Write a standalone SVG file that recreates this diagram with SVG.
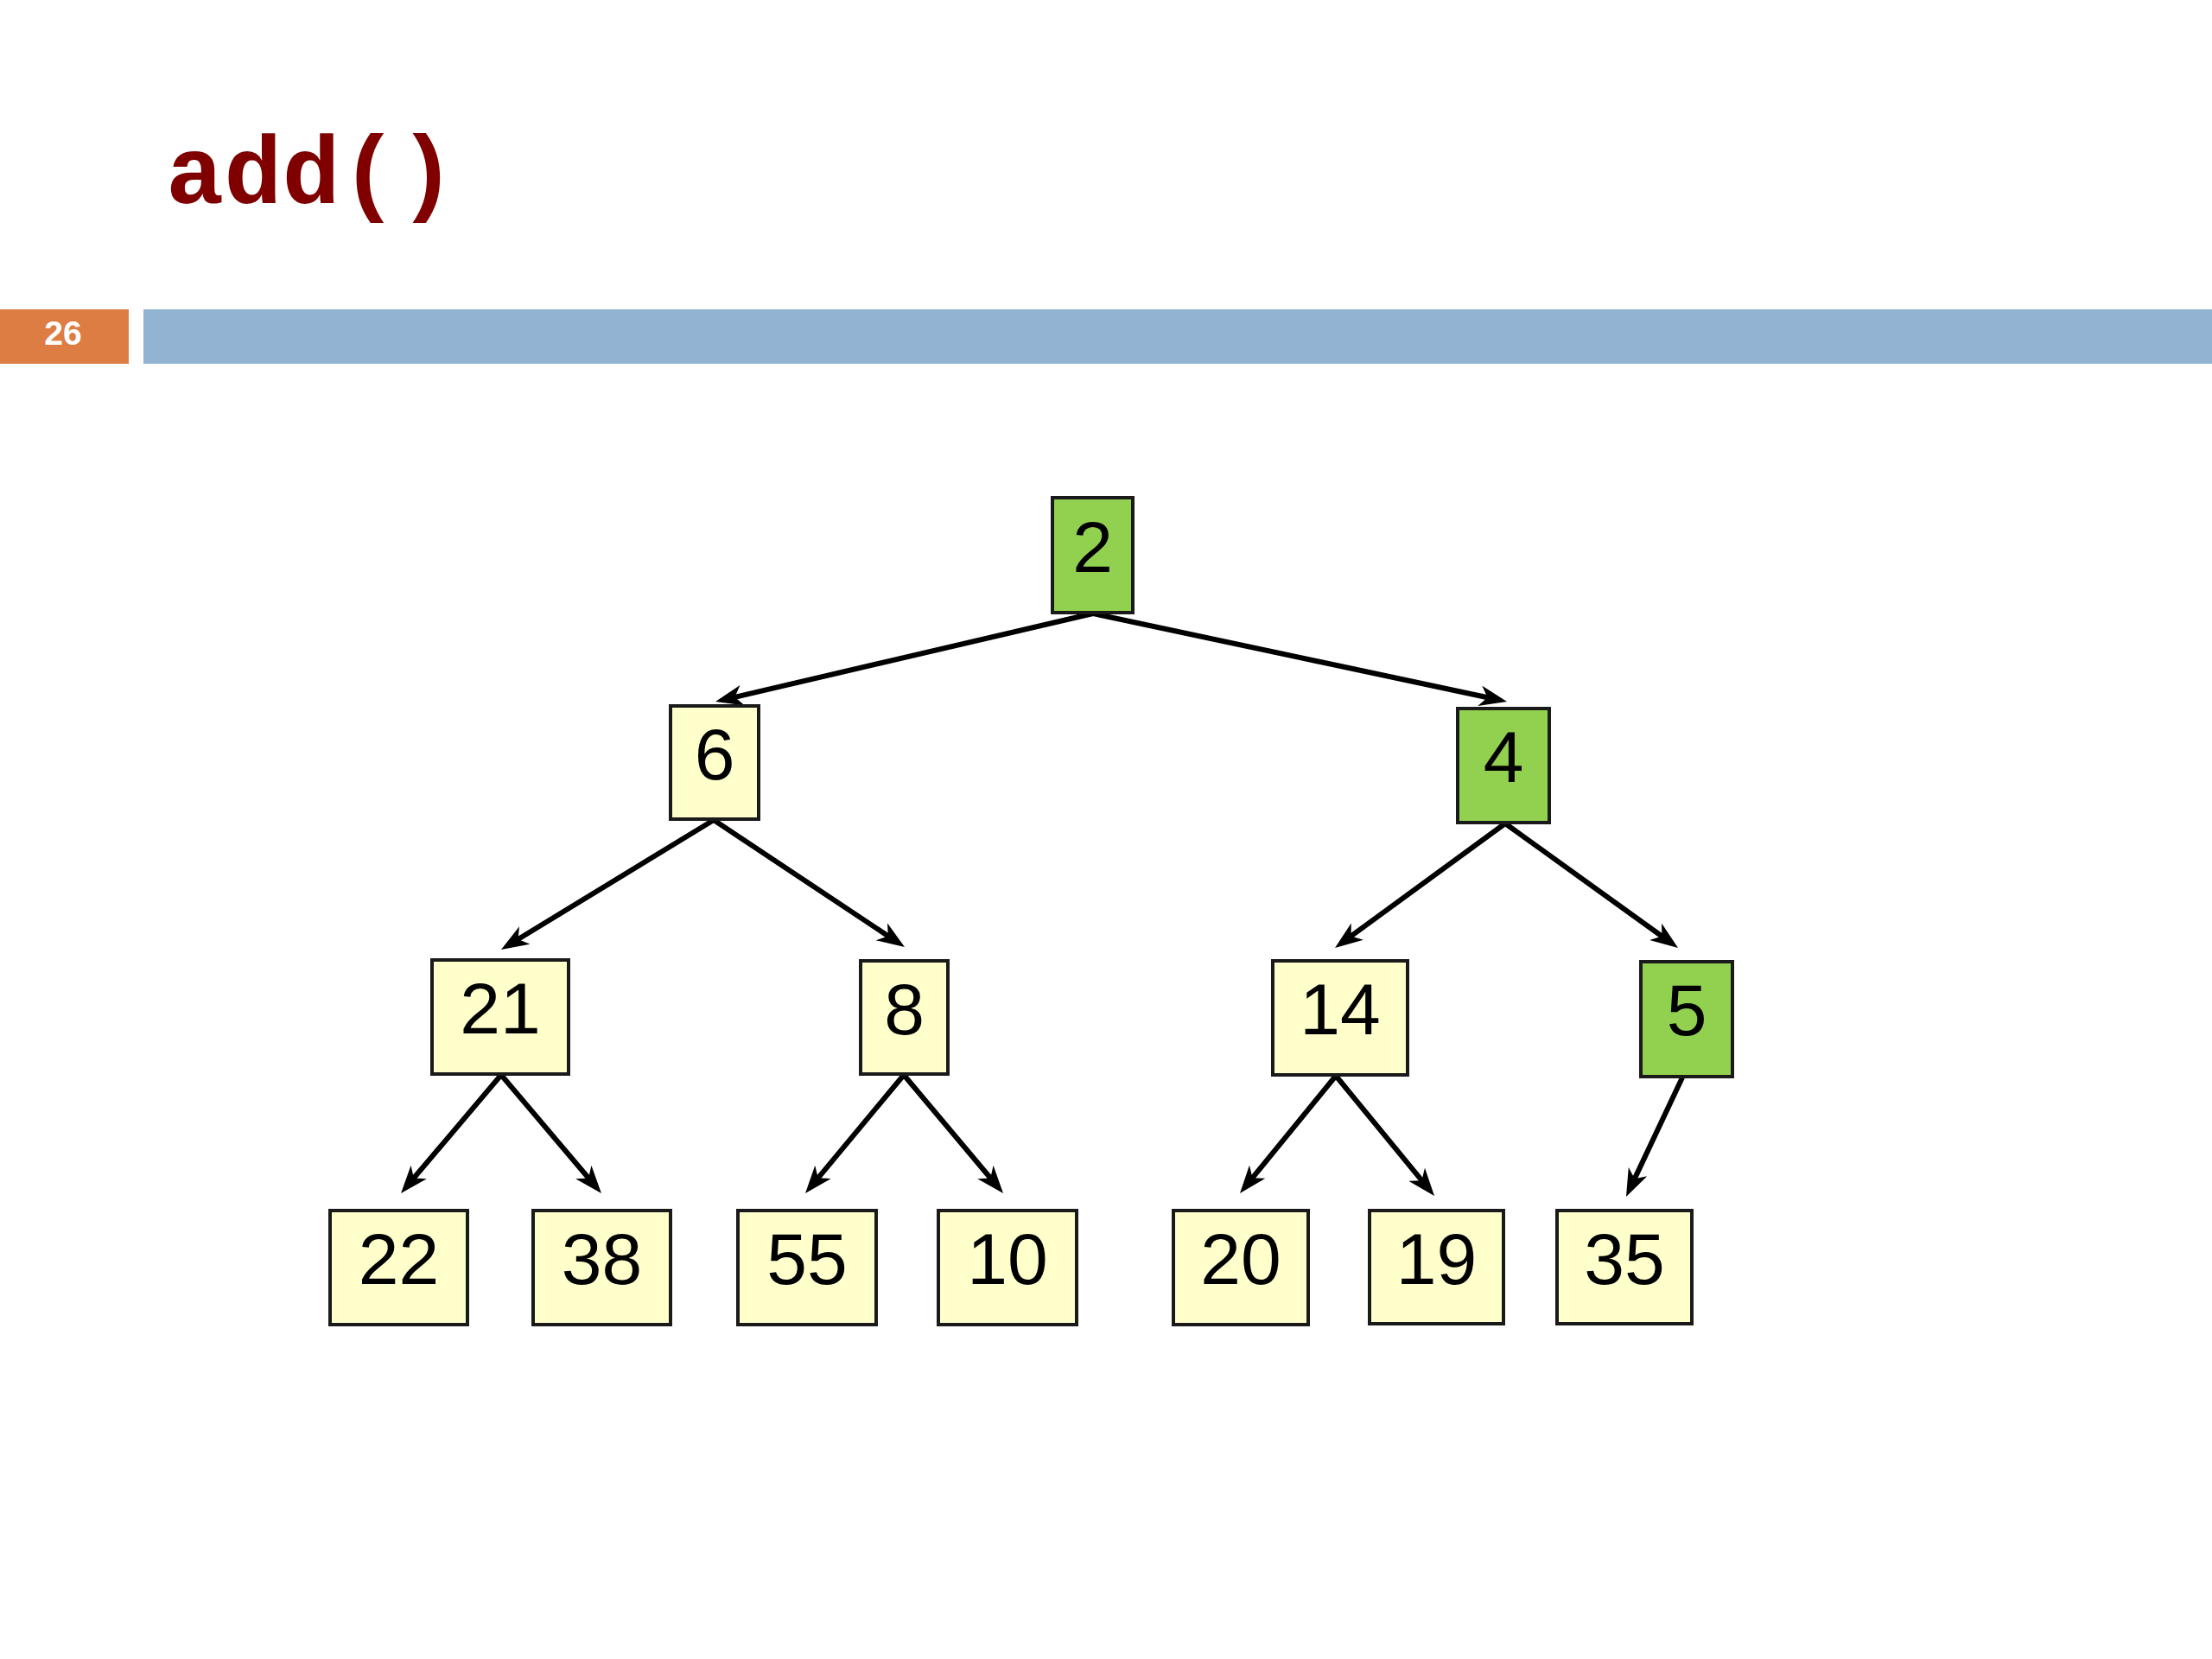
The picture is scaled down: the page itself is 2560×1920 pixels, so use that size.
<svg xmlns="http://www.w3.org/2000/svg" width="2560" height="1920" viewBox="0 0 2560 1920">
<style>
.node rect{stroke:#1a1a1a;stroke-width:4}
.y rect{fill:#FFFFCC}
.g rect{fill:#92D050}
.node text{font-family:"Liberation Sans",Arial,sans-serif;font-size:84px;fill:#000;text-anchor:middle}
.edge{stroke:#000;stroke-width:6;fill:none;marker-end:url(#arr)}
</style>
<defs>
<marker id="arr" markerUnits="userSpaceOnUse" markerWidth="32" markerHeight="24" refX="20" refY="12" orient="auto" viewBox="0 0 32 24">
<path d="M0,0 L32,12 L0,24 L9,12 Z" fill="#000"/>
</marker>
</defs>
<rect width="2560" height="1920" fill="#fff"/>
<text x="192" y="235" font-family="'Courier New','Nimbus Mono PS','Liberation Mono',monospace" font-weight="bold" font-size="112" fill="#800000" stroke="#800000" stroke-width="0">add()</text>
<rect x="0" y="358" width="149" height="63" fill="#DE7D43"/>
<text x="73" y="399" font-family="'Liberation Sans',Arial,sans-serif" font-weight="bold" font-size="39" fill="#fff" text-anchor="middle">26</text>
<rect x="166" y="358" width="2394" height="63" fill="#93B3D3"/>
<g id="connectors">
<path class="edge" d="M1265,710 L839.7,809.3"/>
<path class="edge" d="M1265,710 L1732.3,809.5"/>
<path class="edge" d="M826,949 L590.2,1092.8"/>
<path class="edge" d="M826,949 L1037,1089.4"/>
<path class="edge" d="M1742,953 L1554.7,1089.9"/>
<path class="edge" d="M1742,953 L1932.3,1090"/>
<path class="edge" d="M580,1244 L471.8,1371.8"/>
<path class="edge" d="M580,1244 L688.2,1371.8"/>
<path class="edge" d="M1046,1244 L939.7,1371.8"/>
<path class="edge" d="M1046,1244 L1153.3,1371.8"/>
<path class="edge" d="M1546,1245 L1442.6,1371.7"/>
<path class="edge" d="M1546,1245 L1652.4,1374.7"/>
<path class="edge" d="M1947,1247 L1887.1,1374.1"/>
</g>
<g id="n2" class="node g"><rect x="1218" y="576" width="93" height="133"/><text x="1264.5" y="662">2</text></g>
<g id="n6" class="node y"><rect x="776" y="817" width="102" height="131"/><text x="827" y="902">6</text></g>
<g id="n4" class="node g"><rect x="1687" y="820" width="106" height="132"/><text x="1740" y="905">4</text></g>
<g id="n21" class="node y"><rect x="500" y="1111" width="158" height="132"/><text x="579" y="1196">21</text></g>
<g id="n8" class="node y"><rect x="996" y="1112" width="101" height="131"/><text x="1046.5" y="1197">8</text></g>
<g id="n14" class="node y"><rect x="1473" y="1112" width="156" height="132"/><text x="1551" y="1197">14</text></g>
<g id="n5" class="node g"><rect x="1899" y="1113" width="106" height="133"/><text x="1952" y="1198">5</text></g>
<g id="n22" class="node y"><rect x="382" y="1401" width="159" height="132"/><text x="461.5" y="1486">22</text></g>
<g id="n38" class="node y"><rect x="617" y="1401" width="159" height="132"/><text x="696.5" y="1486">38</text></g>
<g id="n55" class="node y"><rect x="854" y="1401" width="160" height="132"/><text x="934" y="1486">55</text></g>
<g id="n10" class="node y"><rect x="1086" y="1401" width="160" height="132"/><text x="1166" y="1486">10</text></g>
<g id="n20" class="node y"><rect x="1358" y="1401" width="156" height="132"/><text x="1436" y="1486">20</text></g>
<g id="n19" class="node y"><rect x="1585" y="1401" width="155" height="131"/><text x="1662.5" y="1486">19</text></g>
<g id="n35" class="node y"><rect x="1802" y="1401" width="156" height="131"/><text x="1880" y="1486">35</text></g>
</svg>
